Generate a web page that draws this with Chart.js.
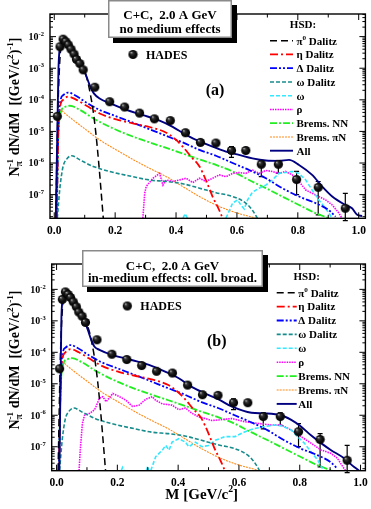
<!DOCTYPE html>
<html>
<head>
<meta charset="utf-8">
<script src="https://cdn.jsdelivr.net/npm/chart.js@4.4.1/dist/chart.umd.min.js"></script>
<style>
  html, body { margin: 0; padding: 0; background: #fff; }
  #wrap { position: relative; width: 371px; height: 509px; overflow: hidden; }
  canvas { position: absolute; left: 0; }
  #cTop { top: 0; }
  #cBot { top: 250px; }
</style>
</head>
<body>
<div id="wrap">
  <canvas id="cTop" width="371" height="250"></canvas>
  <canvas id="cBot" width="371" height="259"></canvas>
</div>
<script>
const SERIF = '"Liberation Serif", "Times New Roman", serif';

// axis ticks
const X_TICKS = [0, 0.1, 0.2, 0.3, 0.4, 0.5, 0.6, 0.7, 0.8, 0.9, 1.0];
const X_LABELS = ['0.0', '', '0.2', '', '0.4', '', '0.6', '', '0.8', '', '1.0'];
const Y_DECADES = [1e-8, 1e-7, 1e-6, 1e-5, 1e-4, 1e-3, 1e-2, 1e-1];
const Y_LABELS = ['', '10^{-7}', '10^{-6}', '10^{-5}', '10^{-4}', '10^{-3}', '10^{-2}', ''];

// HADES data
const hadesM = [0.010, 0.019, 0.029, 0.038, 0.046, 0.055, 0.065, 0.073, 0.084, 0.095, 0.133, 0.182, 0.231,
  0.280, 0.329, 0.381, 0.431, 0.480, 0.531, 0.582, 0.629, 0.680, 0.736, 0.796, 0.867, 0.956];
const hadesY = [3.0e-5, 4.8e-3, 8.3e-3, 6.9e-3, 5.5e-3, 4.0e-3, 2.8e-3, 1.9e-3, 1.4e-3, 8.9e-4, 2.5e-4, 8.7e-5, 5.9e-5,
  3.8e-5, 2.5e-5, 2.2e-5, 9.1e-6, 4.5e-6, 4.3e-6, 2.5e-6, 2.5e-6, 9.1e-7, 9.1e-7, 3.0e-7, 1.7e-7, 3.7e-8];
const hadesLo = [null, null, null, null, null, null, null, null, null, null, null, null, null,
  null, null, null, null, null, null, 1.5e-6, null, 3.7e-7, 4.8e-7, 1.0e-7, 2.3e-8, 1.5e-8];
const hadesHi = [null, null, null, null, null, null, null, null, null, null, null, null, null,
  null, null, null, null, null, null, 3.3e-6, null, 1.2e-6, 1.2e-6, 5.4e-7, 2.6e-7, 1.1e-7];

// HSD components (same in both panels)
const pi0M = [0.005, 0.013, 0.024, 0.032, 0.051, 0.073, 0.095, 0.108, 0.118, 0.127, 0.136, 0.145, 0.153, 0.161];
const pi0V = [1.8e-8, 1.0e-4, 6.2e-3, 7.8e-3, 4.8e-3, 2.3e-3, 1.0e-3, 4.5e-4, 1.6e-4, 5.0e-5, 1.0e-5, 1.3e-6, 1.6e-7, 1.8e-8];

const etaM = [0.008, 0.013, 0.019, 0.029, 0.046, 0.073, 0.106, 0.149, 0.204, 0.258, 0.313, 0.368, 0.400,
  0.422, 0.449, 0.477, 0.498, 0.520, 0.542, 0.553];
const etaV = [1.8e-8, 8.7e-6, 6.0e-5, 1.0e-4, 1.26e-4, 1.0e-4, 6.5e-5, 3.7e-5, 2.4e-5, 1.8e-5, 1.38e-5, 9.1e-6, 5.4e-6,
  3.3e-6, 1.6e-6, 7.8e-7, 2.9e-7, 8.7e-8, 3.2e-8, 1.8e-8];

const deltaM = [0.008, 0.013, 0.021, 0.029, 0.046, 0.068, 0.106, 0.149, 0.204, 0.258, 0.313, 0.368, 0.422,
  0.477, 0.531, 0.586, 0.640, 0.695, 0.749, 0.804, 0.858, 0.902, 0.924];
const deltaV = [1.8e-8, 8.7e-6, 1.0e-4, 1.4e-4, 1.7e-4, 1.4e-4, 8.1e-5, 4.8e-5, 3.0e-5, 1.9e-5, 1.17e-5, 7.2e-6, 4.5e-6,
  2.6e-6, 1.7e-6, 1.0e-6, 6.0e-7, 3.3e-7, 1.6e-7, 8.7e-8, 5.4e-8, 3.2e-8, 2.0e-8];

const omegaDM = [0.010, 0.019, 0.029, 0.040, 0.057, 0.084, 0.128, 0.182, 0.258, 0.313, 0.368, 0.422, 0.477,
  0.531, 0.586, 0.629, 0.651, 0.667];
const omegaDV = [1.8e-8, 1.8e-7, 7.8e-7, 1.3e-6, 1.7e-6, 1.26e-6, 7.8e-7, 5.4e-7, 3.7e-7, 2.9e-7, 2.6e-7, 2.2e-7, 1.6e-7,
  1.15e-7, 8.7e-8, 5.4e-8, 3.2e-8, 1.8e-8];

const nnM = [0.008, 0.013, 0.024, 0.035, 0.051, 0.084, 0.128, 0.182, 0.258, 0.313, 0.368, 0.422, 0.477,
  0.531, 0.586, 0.640, 0.695, 0.749, 0.804, 0.858, 0.902];
const nnV = [1.8e-8, 5.4e-6, 4.8e-5, 6.0e-5, 6.5e-5, 4.8e-5, 2.6e-5, 1.4e-5, 6.9e-6, 4.5e-6, 3.0e-6, 2.0e-6, 1.3e-6,
  8.7e-7, 5.4e-7, 2.9e-7, 1.6e-7, 8.7e-8, 4.7e-8, 2.6e-8, 1.8e-8];

const piNM = [0.008, 0.013, 0.019, 0.024, 0.035, 0.062, 0.106, 0.149, 0.204, 0.258, 0.313, 0.368, 0.422,
  0.477, 0.531, 0.586, 0.662];
const piNV = [1.8e-8, 1.4e-5, 3.3e-5, 4.5e-5, 3.7e-5, 2.3e-5, 1.1e-5, 5.4e-6, 2.6e-6, 1.3e-6, 6.8e-7, 3.7e-7, 1.8e-7,
  8.7e-8, 4.7e-8, 2.9e-8, 1.8e-8];

// panel (a): no medium effects
const omegaAM = [0.423, 0.430, 0.437, 0.440, 0.564, 0.586, 0.602, 0.613, 0.624, 0.635, 0.651, 0.673, 0.695, 0.716,
  0.738, 0.760, 0.782, 0.804, 0.826, 0.847, 0.869, 0.891, 0.913];
const omegaAV = [1.8e-8, 2.5e-8, 1.8e-8, null, 1.8e-8, 5.4e-8, 6.8e-8, 4.7e-8, 3.5e-8, 6.8e-8, 1.2e-7, 1.6e-7, 2.0e-7, 2.9e-7,
  4.7e-7, 5.0e-7, 5.4e-7, 4.7e-7, 2.9e-7, 1.4e-7, 6.8e-8, 3.7e-8, 1.8e-8];

const rhoAM = [0.291, 0.297, 0.302, 0.324, 0.346, 0.357, 0.368, 0.389, 0.411, 0.433, 0.455, 0.477, 0.498, 0.520,
  0.542, 0.564, 0.586, 0.607, 0.629, 0.651, 0.673, 0.695, 0.716, 0.738, 0.760, 0.782, 0.804, 0.826, 0.847,
  0.869, 0.891, 0.913, 0.935, 0.945];
const rhoAV = [1.8e-8, 1.1e-7, 1.8e-7, 3.3e-7, 4.7e-7, 2.0e-7, 2.9e-7, 2.6e-7, 2.9e-7, 3.3e-7, 2.4e-7, 3.3e-7, 2.6e-7, 3.3e-7,
  4.2e-7, 3.7e-7, 4.7e-7, 5.0e-7, 4.7e-7, 6.0e-7, 4.7e-7, 5.8e-7, 5.4e-7, 4.7e-7, 5.4e-7, 4.2e-7, 2.6e-7, 1.4e-7, 1.1e-7,
  8.7e-8, 6.8e-8, 4.7e-8, 2.6e-8, 1.8e-8];

const allAM = [0.005, 0.010, 0.014, 0.021, 0.029, 0.040, 0.057, 0.079, 0.095, 0.108, 0.119, 0.130, 0.149, 0.182,
  0.237, 0.291, 0.346, 0.389, 0.433, 0.477, 0.520, 0.564, 0.607, 0.651, 0.695, 0.738, 0.771, 0.804, 0.847,
  0.880, 0.913, 0.956, 0.978, 0.995, 1.011];
const allAV = [1.8e-8, 8.7e-6, 1.1e-3, 5.5e-3, 7.4e-3, 6.2e-3, 3.8e-3, 1.8e-3, 1.0e-3, 4.8e-4, 2.5e-4, 1.6e-4, 1.1e-4, 7.8e-5,
  4.8e-5, 3.3e-5, 2.2e-5, 1.4e-5, 7.8e-6, 4.8e-6, 3.3e-6, 2.3e-6, 1.8e-6, 1.4e-6, 1.2e-6, 1.17e-6, 1.26e-6, 8.7e-7, 4.2e-7,
  1.8e-7, 8.7e-8, 4.7e-8, 3.7e-8, 2.3e-8, 2.1e-8];

// panel (b): collisional broadening
const omegaBM = [0.213, 0.217, 0.222, 0.225, 0.296, 0.300, 0.304, 0.307, 0.310, 0.326, 0.348, 0.359, 0.370, 0.380,
  0.402, 0.424, 0.435, 0.457, 0.478, 0.500, 0.522, 0.554, 0.587, 0.620, 0.652, 0.685, 0.717, 0.739, 0.772,
  0.793, 0.815, 0.837, 0.859, 0.875];
const omegaBV = [1.75e-8, 2.2e-8, 1.75e-8, null, 1.75e-8, 2.4e-8, 1.75e-8, null, 1.75e-8, 4.8e-8, 7.8e-8, 1.1e-7, 7.8e-8, 1.4e-7,
  1.8e-7, 1.4e-7, 1.0e-7, 1.4e-7, 1.0e-7, 1.1e-7, 1.6e-7, 2.1e-7, 2.1e-7, 3.0e-7, 3.8e-7, 4.4e-7, 4.9e-7, 4.6e-7, 3.4e-7,
  2.1e-7, 1.3e-7, 6.9e-8, 3.8e-8, 2.0e-8];

const rhoBM = [0.074, 0.078, 0.085, 0.092, 0.109, 0.125, 0.130, 0.141, 0.152, 0.163, 0.185, 0.207, 0.228, 0.250,
  0.272, 0.293, 0.315, 0.326, 0.348, 0.380, 0.402, 0.424, 0.446, 0.467, 0.489, 0.511, 0.533, 0.576, 0.620,
  0.663, 0.707, 0.739, 0.772, 0.804, 0.837, 0.870, 0.902, 0.924, 0.946, 0.951];
const rhoBV = [1.75e-8, 7.9e-8, 5.5e-7, 1.0e-6, 1.15e-6, 1.5e-6, 1.9e-6, 3.5e-6, 3.9e-6, 2.7e-6, 4.9e-6, 3.9e-6, 3.0e-6, 1.9e-6,
  2.1e-6, 3.2e-6, 3.9e-6, 3.0e-6, 2.3e-6, 2.1e-6, 1.5e-6, 1.7e-6, 1.15e-6, 8.9e-7, 7.9e-7, 6.8e-7, 7.1e-7, 7.9e-7, 6.2e-7,
  5.5e-7, 4.9e-7, 4.9e-7, 3.4e-7, 2.1e-7, 1.3e-7, 7.9e-8, 6.2e-8, 4.3e-8, 2.0e-8, 1.75e-8];

const allBM = [0.009, 0.013, 0.016, 0.022, 0.029, 0.043, 0.065, 0.087, 0.103, 0.114, 0.125, 0.141, 0.185, 0.250,
  0.304, 0.359, 0.402, 0.446, 0.489, 0.533, 0.576, 0.641, 0.685, 0.739, 0.772, 0.804, 0.837, 0.870, 0.902,
  0.946, 0.978, 0.995];
const allBV = [1.75e-8, 1.0e-5, 1.35e-3, 5.9e-3, 7.8e-3, 6.6e-3, 3.2e-3, 1.35e-3, 5.1e-4, 2.5e-4, 1.5e-4, 1.2e-4, 8.1e-5, 5.6e-5,
  4.0e-5, 2.4e-5, 1.5e-5, 7.8e-6, 4.9e-6, 3.2e-6, 1.9e-6, 1.2e-6, 1.15e-6, 1.0e-6, 7.1e-7, 4.4e-7, 2.3e-7, 1.3e-7, 7.9e-8,
  4.3e-8, 2.3e-8, 1.75e-8];

const STYLE = {
  pi0:    { color: '#000000', dash: [7, 4], width: 1.5 },
  eta:    { color: '#ff0000', dash: [8, 3, 2, 3], width: 1.8 },
  delta:  { color: '#0000ff', dash: [7, 2, 2, 2, 2, 2], width: 1.8 },
  omegaD: { color: '#178c8c', dash: [4, 2], width: 1.6 },
  omega:  { color: '#33e8ff', dash: [4, 2], width: 1.6 },
  rho:    { color: '#ff00ff', dash: [1.5, 1], width: 1.6 },
  nn:     { color: '#22ee22', dash: [7, 2, 2, 2], width: 1.8 },
  piN:    { color: '#ff8c1a', dash: [2, 1], width: 1.1 },
  all:    { color: '#000080', dash: [], width: 1.9 },
};

function ballImage(r) {
  const s = Math.ceil(r * 2) + 1;
  const c = document.createElement('canvas');
  c.width = c.height = s;
  const g = c.getContext('2d');
  const grd = g.createRadialGradient(s * 0.34, s * 0.32, 0.1, s / 2, s / 2, r);
  grd.addColorStop(0, '#d8d8d8');
  grd.addColorStop(0.22, '#3a3a3a');
  grd.addColorStop(0.6, '#111');
  grd.addColorStop(1, '#000');
  g.fillStyle = grd;
  g.beginPath();
  g.arc(s / 2, s / 2, r, 0, Math.PI * 2);
  g.fill();
  return c;
}
const BALL = ballImage(4.6);

function rich(ctx, str, x, y, size, align) {
  const parts = str.split(/(\^\{[^}]*\}|_\{[^}]*\})/).filter((p) => p);
  const segs = parts.map((p) => {
    if (p[0] === '^') return { t: p.slice(2, -1), s: size * 0.65, dy: -size * 0.42, k: 'sup' };
    if (p[0] === '_') return { t: p.slice(2, -1), s: size * 0.7, dy: size * 0.22, k: 'sub' };
    return { t: p, s: size, dy: 0, k: 'n' };
  });
  let w = 0;
  segs.forEach((g, i) => {
    ctx.font = `bold ${g.s}px ${SERIF}`;
    g.w = ctx.measureText(g.t).width;
    g.stack = g.k === 'sup' && i > 0 && segs[i - 1].k === 'sub';
    w += g.stack ? Math.max(0, g.w - segs[i - 1].w) : g.w;
  });
  let cx = align === 'center' ? x - w / 2 : align === 'right' ? x - w : x;
  ctx.textAlign = 'left';
  ctx.textBaseline = 'alphabetic';
  segs.forEach((g, i) => {
    ctx.font = `bold ${g.s}px ${SERIF}`;
    if (g.stack) {
      const prev = segs[i - 1];
      const start = cx - prev.w;
      ctx.fillText(g.t, start, y + g.dy);
      cx = start + Math.max(prev.w, g.w);
    } else {
      ctx.fillText(g.t, cx, y + g.dy);
      cx += g.w;
    }
  });
}

const deco = {
  id: 'deco',
  beforeDatasetsDraw(chart, args, o) {
    // HADES error bars
    const { ctx, scales: { x, y } } = chart;
    ctx.save();
    ctx.strokeStyle = '#000';
    ctx.lineWidth = 1.2;
    ctx.beginPath();
    hadesM.forEach((m, i) => {
      if (hadesLo[i] == null) return;
      const px = x.getPixelForValue(m);
      const y0 = y.getPixelForValue(hadesLo[i]);
      const y1 = y.getPixelForValue(hadesHi[i]);
      ctx.moveTo(px, y0); ctx.lineTo(px, y1);
      ctx.moveTo(px - 2.5, y0); ctx.lineTo(px + 2.5, y0);
      ctx.moveTo(px - 2.5, y1); ctx.lineTo(px + 2.5, y1);
    });
    ctx.stroke();
    ctx.restore();
  },
  afterDatasetsDraw(chart, args, o) {
    const { ctx, chartArea: a, scales: { x, y } } = chart;
    ctx.save();
    ctx.strokeStyle = '#000';
    ctx.setLineDash([]);
    ctx.lineWidth = 1.4;
    ctx.strokeRect(a.left, a.top, a.right - a.left, a.bottom - a.top);

    ctx.lineWidth = 1;
    ctx.beginPath();
    X_TICKS.forEach((v, i) => {
      const px = x.getPixelForValue(v);
      const len = X_LABELS[i] ? 6 : 3.5;
      ctx.moveTo(px, a.bottom); ctx.lineTo(px, a.bottom - len);
      ctx.moveTo(px, a.top); ctx.lineTo(px, a.top + len);
    });
    Y_DECADES.forEach((d) => {
      for (let k = 1; k <= 9; k++) {
        const py = y.getPixelForValue(d * k);
        if (py < a.top || py > a.bottom) continue;
        const len = k === 1 ? 6 : 3;
        ctx.moveTo(a.left, py); ctx.lineTo(a.left + len, py);
        ctx.moveTo(a.right, py); ctx.lineTo(a.right - len, py);
      }
    });
    ctx.stroke();

    ctx.fillStyle = '#000';
    X_TICKS.forEach((v, i) => {
      if (!X_LABELS[i]) return;
      rich(ctx, X_LABELS[i], x.getPixelForValue(v), o.xLabY + 4, 11.5, 'center');
    });
    Y_DECADES.forEach((d, i) => {
      if (!Y_LABELS[i]) return;
      rich(ctx, Y_LABELS[i], a.left - 6, y.getPixelForValue(d) + 3.4, 10, 'right');
    });
    ctx.restore();
  },
  afterDraw(chart, args, o) {
    const { ctx } = chart;
    ctx.save();
    ctx.fillStyle = '#000';

    // y title
    ctx.save();
    ctx.translate(o.yTitle.x, o.yTitle.y);
    ctx.rotate(-Math.PI / 2);
    rich(ctx, 'N_{π}^{-1} dN/dM  [(GeV/c^{2})^{-1}]', 0, 5, 14, 'center');
    ctx.restore();

    if (o.xTitle) rich(ctx, 'M [GeV/c^{2}]', o.xTitle.x, o.xTitle.y, 15, 'center');

    // header box with shadow
    const b = o.box;
    ctx.fillStyle = '#000';
    ctx.fillRect(b.x + 5, b.y + 5, b.w, b.h);
    ctx.fillStyle = '#fff';
    ctx.fillRect(b.x, b.y, b.w, b.h);
    ctx.strokeStyle = '#8a8a8a';
    ctx.lineWidth = 1.5;
    ctx.strokeRect(b.x + 0.75, b.y + 0.75, b.w - 1.5, b.h - 1.5);
    ctx.fillStyle = '#000';
    b.lines.forEach((t, i) => rich(ctx, t, b.x + b.w / 2, b.ly[i] + 4.5, 13, 'center'));

    // HADES marker label
    ctx.drawImage(BALL, o.hades.x - BALL.width / 2, o.hades.y - BALL.height / 2);
    rich(ctx, 'HADES', o.hades.x + 13, o.hades.y + 4.2, 12, 'left');

    // panel tag
    rich(ctx, o.tag.text, o.tag.x, o.tag.y + 5.6, 16, 'center');

    // legend
    const L = o.legend;
    rich(ctx, 'HSD:', L.hx, L.hy + 3.8, 11, 'center');
    let row = 0;
    chart.data.datasets.forEach((ds) => {
      if (!ds.legendText) return;
      const yy = L.y0 + row * L.dy;
      ctx.strokeStyle = ds.borderColor;
      ctx.lineWidth = ds.borderWidth;
      ctx.setLineDash(ds.borderDash || []);
      ctx.beginPath();
      ctx.moveTo(L.x0, yy); ctx.lineTo(L.x1, yy);
      ctx.stroke();
      ctx.setLineDash([]);
      ctx.fillStyle = '#000';
      rich(ctx, ds.legendText, L.tx, yy + 3.8, 11, 'left');
      row++;
    });
    ctx.restore();
  },
};

function pts(ms, vs) {
  return ms.map((m, i) => ({ x: m, y: vs[i] }));
}

function curve(text, key, ms, vs, smooth) {
  const s = STYLE[key];
  return {
    label: text,
    legendText: text,
    data: pts(ms, vs),
    borderColor: s.color,
    borderDash: s.dash,
    borderWidth: s.width,
    pointRadius: 0,
    fill: false,
    spanGaps: false,
    cubicInterpolationMode: smooth ? 'monotone' : 'default',
    tension: 0,
    order: key === 'all' ? -1 : 0,
  };
}

function datasets(omegaM, omegaV, rhoM, rhoV, allM, allV) {
  return [
    curve('π^{0} Dalitz', 'pi0', pi0M, pi0V, true),
    curve('η Dalitz', 'eta', etaM, etaV, true),
    curve('Δ Dalitz', 'delta', deltaM, deltaV, true),
    curve('ω Dalitz', 'omegaD', omegaDM, omegaDV, true),
    curve('ω', 'omega', omegaM, omegaV, false),
    curve('ρ', 'rho', rhoM, rhoV, false),
    curve('Brems. NN', 'nn', nnM, nnV, true),
    curve('Brems. πN', 'piN', piNM, piNV, true),
    curve('All', 'all', allM, allV, true),
    {
      label: 'HADES',
      data: pts(hadesM, hadesY),
      showLine: false,
      pointStyle: BALL,
      pointRadius: 4.6,
      order: -2,
    },
  ];
}

function makeChart(id, L, sets) {
  return new Chart(document.getElementById(id), {
    type: 'line',
    data: { datasets: sets },
    options: {
      responsive: false,
      animation: false,
      events: [],
      layout: { padding: L.pad },
      plugins: { legend: { display: false }, tooltip: { enabled: false }, deco: L },
      scales: {
        x: { type: 'linear', display: false, bounds: 'data', min: L.xMin, max: L.xMax },
        y: { type: 'logarithmic', display: false, bounds: 'data', min: L.yMin, max: L.yMax },
      },
    },
    plugins: [deco],
  });
}

const LAYOUT_A = {
  pad: { left: 50, top: 14, right: 4.3, bottom: 31.7 },
  xMin: -0.014, xMax: 1.022, yMin: 1.78e-8, yMax: 5.2e-2,
  box: { x: 108, y: 0, w: 124, h: 38, lines: ['C+C,  2.0 A GeV', 'no medium effects'], ly: [14, 28] },
  hades: { x: 133, y: 54.5 },
  tag: { text: '(a)', x: 215, y: 89 },
  legend: { x0: 270, x1: 293, tx: 296.5, y0: 40.7, dy: 13.75, hx: 303, hy: 24 },
  xLabY: 229.5,
  yTitle: { x: 14, y: 107 },
  xTitle: null,
};

const LAYOUT_B = {
  pad: { left: 51.7, top: 14, right: 2.7, bottom: 38.3 },
  xMin: -0.016, xMax: 1.016, yMin: 1.73e-8, yMax: 6.4e-2,
  box: { x: 82, y: 0, w: 181, h: 37, lines: ['C+C,  2.0 A GeV', 'in-medium effects: coll. broad.'], ly: [15, 27] },
  hades: { x: 127.3, y: 56 },
  tag: { text: '(b)', x: 216.7, y: 90 },
  legend: { x0: 276.7, x1: 296.7, tx: 298.3, y0: 42.7, dy: 13.9, hx: 306.7, hy: 26 },
  xLabY: 231.5,
  yTitle: { x: 14, y: 110 },
  xTitle: { x: 201.7, y: 248.5 },
};

makeChart('cTop', LAYOUT_A, datasets(omegaAM, omegaAV, rhoAM, rhoAV, allAM, allAV));
makeChart('cBot', LAYOUT_B, datasets(omegaBM, omegaBV, rhoBM, rhoBV, allBM, allBV));
</script>
</body>
</html>
